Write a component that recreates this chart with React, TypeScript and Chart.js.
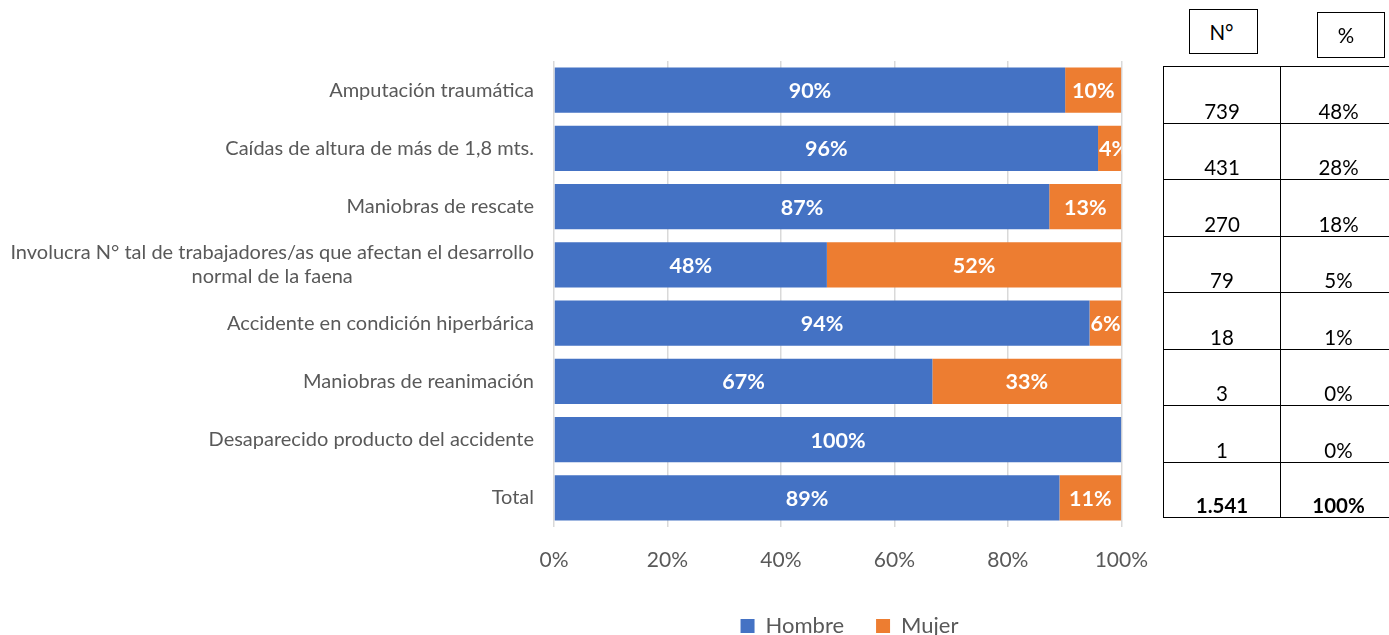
import React, { useEffect, useRef } from "react";
import { Chart, registerables } from "chart.js";

Chart.register(...registerables);

const categories: (string | string[])[] = [
  "Amputación traumática",
  "Caídas de altura de más de 1,8 mts.",
  "Maniobras de rescate",
  ["Involucra N° tal de trabajadores/as que afectan el desarrollo", "normal de la faena"],
  "Accidente en condición hiperbárica",
  "Maniobras de reanimación",
  "Desaparecido producto del accidente",
  "Total",
];
const hombre = [90.1, 95.9, 87.3, 48.1, 94.4, 66.7, 100, 89.1];
const mujer = [9.9, 4.1, 12.7, 51.9, 5.6, 33.3, 0, 10.9];
const seriesNames = ["Hombre", "Mujer"];
const seriesColors = ["#4472C4", "#ED7D31"];
const tableHeaders = ["N°", "%"];
const tableN = ["739", "431", "270", "79", "18", "3", "1", "1.541"];
const tablePct = ["48%", "28%", "18%", "5%", "1%", "0%", "0%", "100%"];

const FONT = "Lato, 'Open Sans', sans-serif";

const catLabelPlugin = {
  id: "catLabels",
  afterDraw(chart: any) {
    const { ctx, chartArea } = chart;
    const y = chart.scales.y;
    const right = chartArea.left - 20;
    ctx.save();
    ctx.font = `20px ${FONT}`;
    ctx.fillStyle = "#595959";
    ctx.textAlign = "center";
    ctx.textBaseline = "middle";
    const lh = 24;
    categories.forEach((c, i) => {
      const lines = Array.isArray(c) ? c : [c];
      const maxW = Math.max(...lines.map((l) => ctx.measureText(l).width));
      const cx = right - maxW / 2;
      const cy = y.getPixelForValue(i);
      lines.forEach((l, k) => {
        ctx.fillText(l, cx, cy + (k - (lines.length - 1) / 2) * lh);
      });
    });
    ctx.restore();
  },
};

const valueLabelPlugin = {
  id: "valueLabels",
  afterDatasetsDraw(chart: any) {
    const { ctx, chartArea } = chart;
    ctx.save();
    ctx.beginPath();
    ctx.rect(chartArea.left, chartArea.top, chartArea.right - chartArea.left, chartArea.bottom - chartArea.top);
    ctx.clip();
    ctx.font = `bold 21.5px ${FONT}`;
    ctx.fillStyle = "#FFFFFF";
    ctx.textBaseline = "middle";
    chart.data.datasets.forEach((ds: any, di: number) => {
      const meta = chart.getDatasetMeta(di);
      meta.data.forEach((el: any, i: number) => {
        const v = ds.data[i];
        if (!v) return;
        const txt = Math.round(v) + "%";
        const l = Math.min(el.x, el.base);
        const r = Math.max(el.x, el.base);
        const w = ctx.measureText(txt).width;
        if (w + 2 > r - l) {
          ctx.textAlign = "left";
          ctx.fillText(txt, l + 1, el.y + 1);
        } else {
          ctx.textAlign = "center";
          ctx.fillText(txt, (l + r) / 2, el.y + 1);
        }
      });
    });
    ctx.restore();
  },
};

const legendShiftPlugin = {
  id: "legendShift",
  afterLayout(chart: any) {
    if (chart.legend) {
      chart.legend.left += 3.5;
      chart.legend.right += 3.5;
    }
  },
};

function BarChart() {
  const ref = useRef<HTMLCanvasElement>(null);
  useEffect(() => {
    if (!ref.current) return;
    const chart = new Chart(ref.current, {
      type: "bar",
      data: {
        labels: categories.map((c) => (Array.isArray(c) ? c.join(" ") : c)),
        datasets: [
          { label: seriesNames[0], data: hombre, backgroundColor: seriesColors[0], barPercentage: 0.773, categoryPercentage: 1 },
          { label: seriesNames[1], data: mujer, backgroundColor: seriesColors[1], barPercentage: 0.773, categoryPercentage: 1 },
        ],
      },
      options: {
        indexAxis: "y",
        responsive: false,
        animation: false,
        devicePixelRatio: 1,
        layout: { padding: { left: 554, right: 31, top: 61, bottom: 0 } },
        scales: {
          x: {
            stacked: true,
            min: 0,
            max: 100,
            afterFit: (scale: any) => {
              scale.height = 56;
            },
            ticks: {
              stepSize: 20,
              callback: (v: any) => v + "%",
              color: "#595959",
              font: { family: FONT, size: 21 },
              padding: 21,
            },
            grid: { color: "#D9D9D9", lineWidth: 1.5, drawTicks: false },
            border: { display: false },
          },
          y: { stacked: true, display: false, grid: { display: false } },
        },
        plugins: {
          legend: {
            position: "bottom",
            maxHeight: 52,
            labels: {
              boxWidth: 14,
              boxHeight: 14,
              padding: 32,
              color: "#595959",
              font: { family: FONT, size: 22 },
            },
          },
          tooltip: { enabled: false },
        },
      } as any,
      plugins: [catLabelPlugin, valueLabelPlugin, legendShiftPlugin],
    });
    return () => chart.destroy();
  }, []);
  return <canvas ref={ref} width={1169} height={635} style={{ position: "absolute", left: 0, top: 0 }} />;
}

export default function App() {
  const rowH = 56.5;
  const cellStyle = (bold: boolean, w: number, left: boolean) => ({
    width: w,
    borderLeft: left ? "1.5px solid #000" : "none",
    borderRight: "1.5px solid #000",
    display: "flex",
    alignItems: "flex-end",
    justifyContent: "center",
    fontSize: 20.5,
    lineHeight: "24px",
    color: "#000",
    fontWeight: bold ? 700 : 400,
    boxSizing: "border-box" as const,
  });
  return (
    <div style={{ position: "absolute", left: 0, top: 0, width: 1389, height: 635, overflow: "hidden", background: "#fff", fontFamily: FONT }}>
      <BarChart />
      <div style={{ position: "absolute", left: 1189, top: 9, width: 69, height: 45, border: "1.5px solid #000", boxSizing: "border-box", display: "flex", alignItems: "center", justifyContent: "center", paddingRight: 4, fontSize: 20.5, color: "#000" }}>
        {tableHeaders[0]}
      </div>
      <div style={{ position: "absolute", left: 1317, top: 12, width: 68, height: 46, border: "1.5px solid #000", boxSizing: "border-box", display: "flex", alignItems: "center", justifyContent: "center", paddingRight: 10, fontSize: 20.5, color: "#000" }}>
        {tableHeaders[1]}
      </div>
      <div style={{ position: "absolute", left: 1163, top: 66, width: 236 }}>
        {tableN.map((n, i) => {
          const bold = i === tableN.length - 1;
          return (
            <div key={i} style={{ display: "flex", height: rowH, borderTop: "1.5px solid #000", borderBottom: bold ? "1.5px solid #000" : "none", boxSizing: "border-box" }}>
              <div style={cellStyle(bold, 118, true)}>{n}</div>
              <div style={cellStyle(bold, 116, false)}>{tablePct[i]}</div>
            </div>
          );
        })}
      </div>
    </div>
  );
}
